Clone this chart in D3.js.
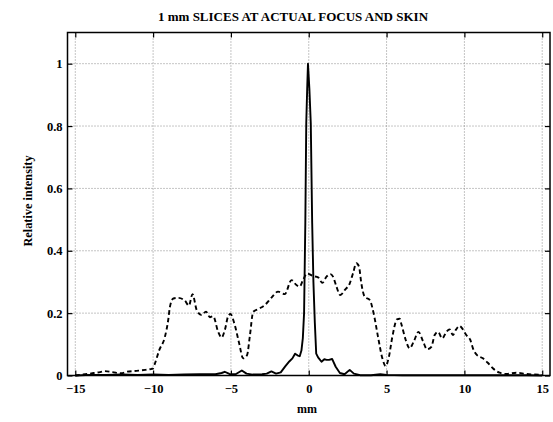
<!DOCTYPE html>
<html>
<head>
<meta charset="utf-8">
<script src="https://cdn.jsdelivr.net/npm/d3@7"></script>
<style>
  html, body { margin: 0; padding: 0; background: #fff; }
  svg { display: block; }
  text { font-family: "Liberation Serif", "Times New Roman", serif; fill: #000; }
</style>
</head>
<body>
<svg id="chart" width="553" height="422"></svg>
<script>
// Beam profile at the focus (solid) and at the skin (dashed), 1 mm slices.
const focusX = [-15, -14, -13, -12, -11, -10, -9, -8, -7, -6, -5.6, -5.4, -5.1, -4.7, -4.3, -4.0, -3.6, -3.0, -2.7, -2.4, -2.1, -1.8, -1.5, -1.25, -1.05, -0.88, -0.7, -0.58, -0.47, -0.38, -0.3, -0.22, -0.16, -0.1, -0.05, 0.04, 0.13, 0.22, 0.3, 0.39, 0.48, 0.6, 0.82, 1.0, 1.15, 1.3, 1.5, 1.73, 2.0, 2.3, 2.63, 2.9, 3.3, 4.0, 4.6, 5.0, 6, 8, 10, 12, 14, 15];
const focusY = [0, 0.002, 0.002, 0.003, 0.002, 0.003, 0.002, 0.003, 0.004, 0.004, 0.008, 0.012, 0.005, 0.004, 0.016, 0.006, 0.003, 0.004, 0.006, 0.013, 0.006, 0.01, 0.03, 0.045, 0.055, 0.07, 0.064, 0.062, 0.08, 0.12, 0.2, 0.49, 0.81, 0.92, 1.0, 0.92, 0.81, 0.49, 0.3, 0.17, 0.07, 0.058, 0.044, 0.052, 0.05, 0.05, 0.053, 0.028, 0.008, 0.004, 0.018, 0.006, 0.001, 0.001, 0.004, 0.002, 0.001, 0.001, 0.001, 0.001, 0.001, 0];

const skinX = [-15, -14.5, -14.2, -13.8, -13.4, -13.1, -12.6, -12.05, -11.7, -11.06, -10.5, -10.2, -10.0, -9.88, -9.6, -9.24, -9.03, -8.92, -8.7, -8.39, -7.96, -7.7, -7.47, -7.2, -6.89, -6.6, -6.35, -6.14, -5.82, -5.6, -5.39, -5.18, -5.03, -4.8, -4.47, -4.22, -3.96, -3.79, -3.57, -3.25, -2.82, -2.39, -1.97, -1.54, -1.11, -0.79, -0.58, -0.37, -0.1, 0.28, 0.6, 0.88, 1.14, 1.39, 1.56, 1.78, 2.03, 2.31, 2.63, 2.84, 3.06, 3.23, 3.38, 3.59, 3.92, 4.17, 4.45, 4.73, 4.94, 5.15, 5.37, 5.67, 5.84, 5.95, 6.23, 6.48, 6.74, 7.05, 7.34, 7.6, 7.88, 8.09, 8.3, 8.58, 8.84, 9.05, 9.26, 9.47, 9.69, 9.9, 10.12, 10.38, 10.55, 10.8, 11.19, 11.5, 11.83, 12.26, 12.69, 13.33, 13.97, 14.5, 15];
const skinY = [0.0, 0.003, 0.005, 0.008, 0.011, 0.014, 0.011, 0.007, 0.012, 0.015, 0.018, 0.02, 0.023, 0.039, 0.082, 0.124, 0.178, 0.22, 0.247, 0.249, 0.24, 0.224, 0.261, 0.21, 0.194, 0.205, 0.187, 0.19, 0.14, 0.122, 0.146, 0.19, 0.197, 0.17, 0.103, 0.055, 0.066, 0.124, 0.204, 0.213, 0.226, 0.25, 0.269, 0.261, 0.306, 0.29, 0.285, 0.306, 0.327, 0.319, 0.315, 0.297, 0.317, 0.325, 0.317, 0.285, 0.258, 0.274, 0.295, 0.327, 0.36, 0.349, 0.295, 0.253, 0.242, 0.199, 0.124, 0.055, 0.03, 0.06, 0.124, 0.18, 0.182, 0.165, 0.114, 0.087, 0.108, 0.14, 0.11, 0.084, 0.092, 0.13, 0.14, 0.119, 0.14, 0.148, 0.13, 0.148, 0.159, 0.148, 0.13, 0.114, 0.087, 0.066, 0.055, 0.041, 0.023, 0.009, 0.005, 0.009, 0.005, 0.003, 0.002];

const xTicks = [-15, -10, -5, 0, 5, 10, 15];
const yTicks = [0, 0.2, 0.4, 0.6, 0.8, 1];
const yTickLabels = ["0", "0.2", "0.4", "0.6", "0.8", "1"];

const titleText = "1 mm SLICES AT ACTUAL FOCUS AND SKIN";
const xLabelText = "mm";
const yLabelText = "Relative intensity";

const svg = d3.select("#chart");
const plotL = 67.5, plotR = 550, plotT = 32.5, plotB = 375.5;

const x = d3.scaleLinear().domain([-15.5, 15.5]).range([plotL, plotR]);
const y = d3.scaleLinear().domain([0, 1.1]).range([plotB, plotT]);

// dotted grid
const grid = svg.append("g")
  .attr("stroke", "#8a8a8a").attr("stroke-width", 1)
  .attr("stroke-dasharray", "1,2").attr("fill", "none");
grid.selectAll("line.v").data(xTicks).join("line")
  .attr("x1", d => x(d)).attr("x2", d => x(d))
  .attr("y1", plotT).attr("y2", plotB);
grid.selectAll("line.h").data(yTicks.filter(d => d > 0)).join("line")
  .attr("x1", plotL).attr("x2", plotR)
  .attr("y1", d => y(d)).attr("y2", d => y(d));

// curves
const skin = skinX.map((v, i) => [v, skinY[i]]);
const focus = focusX.map((v, i) => [v, focusY[i]]);

svg.append("path").datum(skin)
  .attr("d", d3.line().x(d => x(d[0])).y(d => y(d[1])).curve(d3.curveMonotoneX))
  .attr("fill", "none").attr("stroke", "#000")
  .attr("stroke-width", 1.9).attr("stroke-dasharray", "4.5,3");
svg.append("path").datum(focus)
  .attr("d", d3.line().x(d => x(d[0])).y(d => y(d[1])).curve(d3.curveLinear))
  .attr("fill", "none").attr("stroke", "#000")
  .attr("stroke-width", 1.9).attr("stroke-linejoin", "round");

// axes with inward ticks on all four sides
const fmt = d => yTickLabels[yTicks.indexOf(d)];
const axB = svg.append("g").attr("transform", `translate(0,${plotB})`)
  .call(d3.axisBottom(x).tickValues(xTicks).tickSizeInner(-5).tickSizeOuter(0).tickPadding(9));
const axT = svg.append("g").attr("transform", `translate(0,${plotT})`)
  .call(d3.axisTop(x).tickValues(xTicks).tickSizeInner(-5).tickSizeOuter(0).tickFormat(""));
const axL = svg.append("g").attr("transform", `translate(${plotL},0)`)
  .call(d3.axisLeft(y).tickValues(yTicks).tickFormat(fmt).tickSizeInner(-5).tickSizeOuter(0).tickPadding(5));
const axR = svg.append("g").attr("transform", `translate(${plotR},0)`)
  .call(d3.axisRight(y).tickValues(yTicks).tickSizeInner(-5).tickSizeOuter(0).tickFormat(""));

[axB, axT, axL, axR].forEach(g => {
  g.select(".domain").remove();
  g.selectAll(".tick line").attr("stroke", "#000").attr("stroke-width", 1.2);
  g.selectAll(".tick text")
    .style("font-family", '"Liberation Serif", "Times New Roman", serif')
    .style("font-size", "12.5px").style("font-weight", "bold").attr("fill", "#000");
});

// frame
svg.append("rect")
  .attr("x", plotL).attr("y", plotT)
  .attr("width", plotR - plotL).attr("height", plotB - plotT)
  .attr("fill", "none").attr("stroke", "#000").attr("stroke-width", 1.5);

// labels
svg.append("text").attr("x", 293).attr("y", 21).attr("text-anchor", "middle")
  .style("font-size", "13px").style("font-weight", "bold").text(titleText);
svg.append("text").attr("x", 307).attr("y", 413).attr("text-anchor", "middle")
  .style("font-size", "12px").style("font-weight", "bold").text(xLabelText);
svg.append("text").attr("transform", "translate(32,201) rotate(-90)").attr("text-anchor", "middle")
  .style("font-size", "12.3px").style("font-weight", "bold").text(yLabelText);
</script>
</body>
</html>
